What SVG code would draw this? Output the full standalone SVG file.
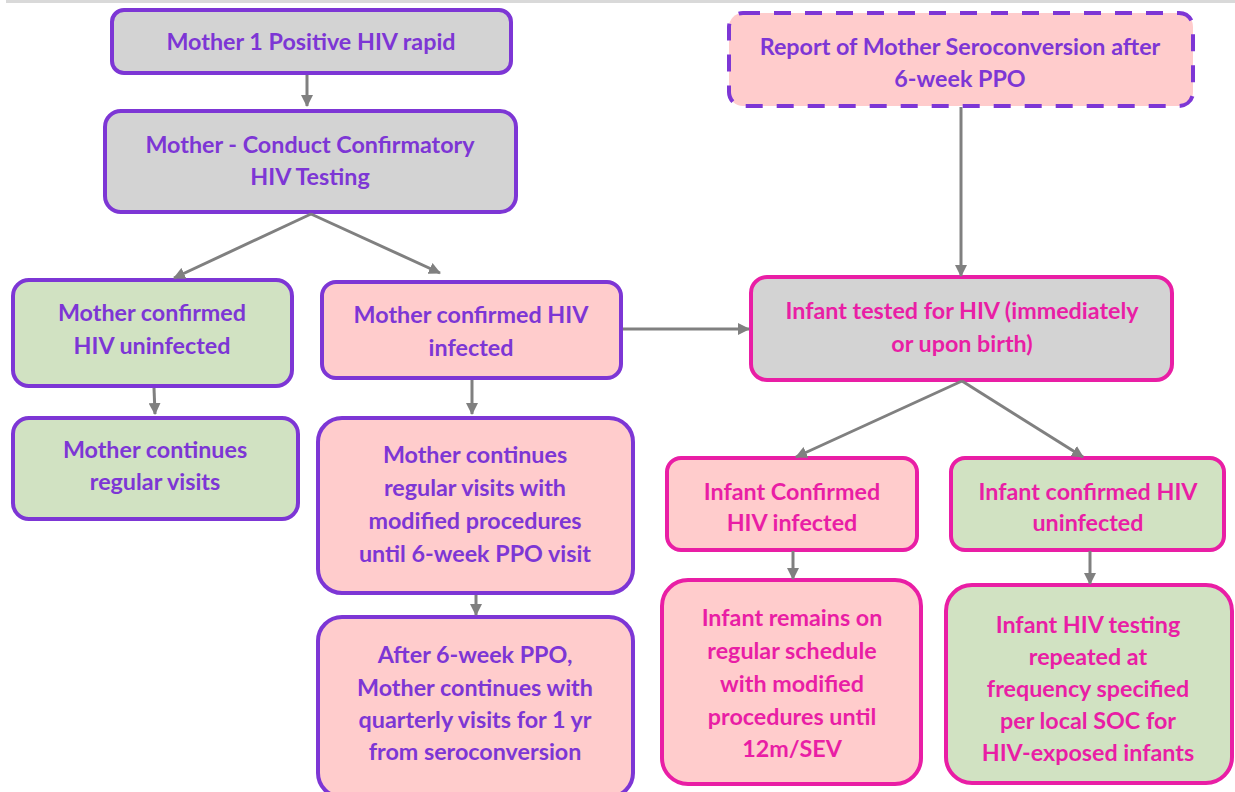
<svg xmlns="http://www.w3.org/2000/svg" width="1235" height="792" viewBox="0 0 1235 792">
<defs>
<marker id="ah" markerWidth="12" markerHeight="12" refX="11" refY="6" orient="auto" markerUnits="userSpaceOnUse">
<path d="M0,0 L12,6 L0,12 Z" fill="#808080"/>
</marker>
<style>
.p{stroke:#7D36D5;stroke-width:4}
.m{stroke:#E91EA5;stroke-width:4}
.g{fill:#D3D3D3}
.k{fill:#FFCCCC}
.n{fill:#D1E2C2}
.d{stroke-dasharray:17,14}
text{font-family:Lato,"Open Sans","Liberation Sans",sans-serif;font-weight:700;font-size:23.3px;text-anchor:middle}
.tp{fill:#7D36D5}
.tm{fill:#E91EA5}
.c{stroke:#808080;stroke-width:3;fill:none;marker-end:url(#ah)}
</style>
</defs>
<rect x="6" y="0" width="1229" height="3" fill="#D9D9D9"/>
<g id="n1"><rect class="p g" x="112" y="10" width="399" height="63" rx="12"/><text class="tp" x="311" y="50">Mother 1 Positive HIV rapid</text></g>
<g id="n2"><rect class="p g" x="105" y="111" width="411" height="101" rx="16"/><text class="tp" x="310" y="153">Mother - Conduct Confirmatory</text><text class="tp" x="310" y="185">HIV Testing</text></g>
<g id="n3"><rect class="p n" x="13" y="280" width="279" height="106" rx="16"/><text class="tp" x="152" y="321">Mother confirmed</text><text class="tp" x="152" y="354">HIV uninfected</text></g>
<g id="n4"><rect class="p k" x="322" y="282" width="299" height="96" rx="14"/><text class="tp" x="471" y="323">Mother confirmed HIV</text><text class="tp" x="471" y="356">infected</text></g>
<g id="n5"><rect class="p n" x="13" y="418" width="285" height="101" rx="16"/><text class="tp" x="155" y="458">Mother continues</text><text class="tp" x="155" y="490">regular visits</text></g>
<g id="n6"><rect class="p k" x="318" y="418" width="315" height="175" rx="24"/><text class="tp" x="475" y="463">Mother continues</text><text class="tp" x="475" y="496">regular visits with</text><text class="tp" x="475" y="529">modified procedures</text><text class="tp" x="475" y="562">until 6-week PPO visit</text></g>
<g id="n7"><rect class="p k" x="318" y="617" width="315" height="180" rx="24"/><text class="tp" x="475" y="663">After 6-week PPO,</text><text class="tp" x="475" y="696">Mother continues with</text><text class="tp" x="475" y="728">quarterly visits for 1 yr</text><text class="tp" x="475" y="760">from seroconversion</text></g>
<g id="n8"><rect class="p k d" x="729" y="13" width="464" height="93" rx="14"/><text class="tp" x="960" y="55">Report of Mother Seroconversion after</text><text class="tp" x="960" y="87">6-week PPO</text></g>
<g id="n9"><rect class="m g" x="751" y="277" width="421" height="103" rx="16"/><text class="tm" x="962" y="319">Infant tested for HIV (immediately</text><text class="tm" x="962" y="352">or upon birth)</text></g>
<g id="n10"><rect class="m k" x="667" y="458" width="250" height="92" rx="14"/><text class="tm" x="792" y="500">Infant Confirmed</text><text class="tm" x="792" y="531">HIV infected</text></g>
<g id="n11"><rect class="m n" x="951" y="458" width="273" height="92" rx="14"/><text class="tm" x="1088" y="500">Infant confirmed HIV</text><text class="tm" x="1088" y="531">uninfected</text></g>
<g id="n12"><rect class="m k" x="662" y="580" width="259" height="204" rx="26"/><text class="tm" x="792" y="626">Infant remains on</text><text class="tm" x="792" y="659">regular schedule</text><text class="tm" x="792" y="692">with modified</text><text class="tm" x="792" y="725">procedures until</text><text class="tm" x="792" y="757">12m/SEV</text></g>
<g id="n13"><rect class="m n" x="946" y="585" width="286" height="198" rx="26"/><text class="tm" x="1088" y="633">Infant HIV testing</text><text class="tm" x="1088" y="665">repeated at</text><text class="tm" x="1088" y="697">frequency specified</text><text class="tm" x="1088" y="729">per local SOC for</text><text class="tm" x="1088" y="761">HIV-exposed infants</text></g>
<g id="connectors">
<line class="c" x1="307" y1="75" x2="307" y2="106"/>
<line class="c" x1="311" y1="214" x2="174" y2="278"/>
<line class="c" x1="311" y1="214" x2="440" y2="273"/>
<line class="c" x1="154" y1="388" x2="155" y2="414"/>
<line class="c" x1="472" y1="380" x2="472" y2="414"/>
<line class="c" x1="476" y1="595" x2="476" y2="615"/>
<line class="c" x1="623" y1="329" x2="749" y2="329"/>
<line class="c" x1="961" y1="107" x2="961" y2="276"/>
<line class="c" x1="962" y1="381" x2="796" y2="457"/>
<line class="c" x1="962" y1="381" x2="1083" y2="457"/>
<line class="c" x1="793" y1="551" x2="793" y2="579"/>
<line class="c" x1="1090" y1="551" x2="1090" y2="584"/>
</g>
</svg>
